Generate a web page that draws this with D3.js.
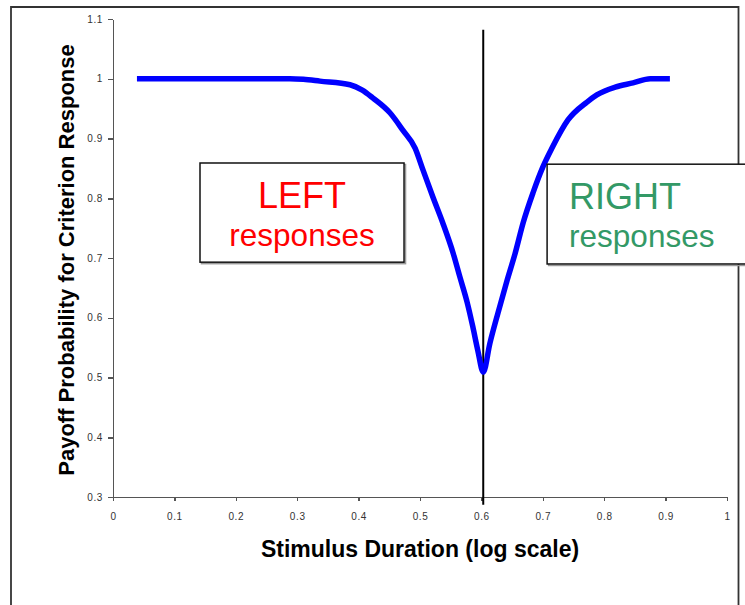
<!DOCTYPE html>
<html lang="en">
<head>
<meta charset="utf-8">
<title>Payoff probability</title>
<script src="https://cdn.jsdelivr.net/npm/d3@7"></script>
<style>
    body { margin: 0; background: #fff; }
    .axis path, .axis line { stroke: #555; stroke-width: 1.5; shape-rendering: crispEdges; }
    .axis text { font-family: "Liberation Sans", Arial, sans-serif; font-size: 10px; fill: #333; letter-spacing: 0.6px; }
    .title { font-family: "Liberation Sans", Arial, sans-serif; font-weight: bold; font-size: 22px; fill: #000; }
    .box-text { font-family: "Liberation Sans", Arial, sans-serif; }
</style>
</head>
<body>
<div id="chart"></div>
<script>

// stimulus duration (log scale) and payoff probability
var duration = [0.039, 0.10, 0.20, 0.288, 0.31, 0.337, 0.386, 0.406, 0.423, 0.451, 0.472, 0.492,
                0.505, 0.521, 0.537, 0.554, 0.565, 0.577, 0.586, 0.594, 0.603,
                0.614, 0.627, 0.642, 0.655, 0.668, 0.684, 0.700, 0.715, 0.741, 0.772,
                0.788, 0.818, 0.847, 0.875, 0.907];
var payoff = [1.0, 1.0, 1.0, 1.0, 0.999, 0.996, 0.990, 0.981, 0.968, 0.943, 0.914, 0.884,
              0.847, 0.802, 0.759, 0.708, 0.668, 0.625, 0.585, 0.546, 0.509,
              0.558, 0.608, 0.663, 0.708, 0.759, 0.809, 0.852, 0.884, 0.931, 0.961,
              0.973, 0.986, 0.993, 1.0, 1.0];

var xTicks = [0, 0.1, 0.2, 0.3, 0.4, 0.5, 0.6, 0.7, 0.8, 0.9, 1];
var yTicks = [0.3, 0.4, 0.5, 0.6, 0.7, 0.8, 0.9, 1, 1.1];

// criterion line and the two text boxes (data units)
var criterion = 0.603;
var criterionSpan = [1.082, 0.287];
var boxLabels = ["LEFT", "RIGHT"];
var boxSubLabels = ["responses", "responses"];
var boxX = [[0.1417, 0.474], [0.707, 1.13]];
var boxY = [[0.859, 0.693], [0.857, 0.690]];

var W = 745, H = 605;
var margin = {top: 19, right: 18, bottom: 108, left: 113};
var width = W - margin.left - margin.right,
    height = H - margin.top - margin.bottom;

var svg = d3.select("#chart").append("svg")
    .attr("width", W)
    .attr("height", H);

// outer frame (open at the bottom)
svg.append("path")
    .attr("d", "M11," + H + "V7H738.5V" + H)
    .attr("fill", "none")
    .attr("stroke", "#333")
    .attr("stroke-width", 1.8);

var g = svg.append("g")
    .attr("transform", "translate(" + margin.left + "," + margin.top + ")");

var x = d3.scaleLinear().domain([0, 1]).range([0, width]);
var y = d3.scaleLinear().domain([0.3, 1.1]).range([height, 0]);

var fmt = function (d) { return String(+d.toFixed(1)); };

g.append("g")
    .attr("class", "axis")
    .attr("transform", "translate(0," + height + ")")
    .call(d3.axisBottom(x).tickValues(xTicks).tickFormat(fmt).tickSizeInner(4).tickSizeOuter(4).tickPadding(12));

g.append("g")
    .attr("class", "axis")
    .call(d3.axisLeft(y).tickValues(yTicks).tickFormat(fmt).tickSizeInner(5).tickSizeOuter(0).tickPadding(5));

// criterion line
g.append("line")
    .attr("x1", x(criterion)).attr("x2", x(criterion))
    .attr("y1", y(criterionSpan[0])).attr("y2", y(criterionSpan[1]))
    .attr("stroke", "#000")
    .attr("stroke-width", 2);

// payoff curve
var pts = duration.map(function (d, i) { return [d, payoff[i]]; });
var line = d3.line()
    .x(function (d) { return x(d[0]); })
    .y(function (d) { return y(d[1]); })
    .curve(d3.curveMonotoneX);

g.append("path")
    .datum(pts)
    .attr("d", line)
    .attr("fill", "none")
    .attr("stroke", "#0000ff")
    .attr("stroke-width", 5.5)
    .attr("stroke-linejoin", "round");

// text boxes
var colors = ["#ff0000", "#339966"];
boxLabels.forEach(function (lab, i) {
    var x0 = x(boxX[i][0]), x1 = x(boxX[i][1]),
        y0 = y(boxY[i][0]), y1 = y(boxY[i][1]);
    g.append("rect")
        .attr("x", x0 + 1.5).attr("y", y0 + 1.5)
        .attr("width", x1 - x0).attr("height", y1 - y0)
        .attr("fill", "none").attr("stroke", "#999").attr("stroke-width", 1.5);
    g.append("rect")
        .attr("x", x0).attr("y", y0)
        .attr("width", x1 - x0).attr("height", y1 - y0)
        .attr("fill", "#fff").attr("stroke", "#111").attr("stroke-width", 1.5);

    var cx = i === 0 ? (x0 + x1) / 2 : x0 + 22;
    var anchor = i === 0 ? "middle" : "start";
    g.append("text")
        .attr("class", "box-text")
        .attr("x", cx).attr("y", y0 + 45)
        .attr("text-anchor", anchor)
        .style("font-size", "36px")
        .style("fill", colors[i])
        .text(lab);
    g.append("text")
        .attr("class", "box-text")
        .attr("x", cx).attr("y", y0 + 83)
        .attr("text-anchor", anchor)
        .style("font-size", "31.5px")
        .style("fill", colors[i])
        .text(boxSubLabels[i]);
});

// axis titles
svg.append("text")
    .attr("class", "title")
    .attr("x", margin.left + width / 2)
    .attr("y", 557)
    .attr("text-anchor", "middle")
    .style("font-size", "23px")
    .text("Stimulus Duration (log scale)");

svg.append("text")
    .attr("class", "title")
    .attr("transform", "translate(74," + (margin.top + height / 2 + 2) + ") rotate(-90)")
    .attr("text-anchor", "middle")
    .text("Payoff Probability for Criterion Response");

</script>
</body>
</html>
